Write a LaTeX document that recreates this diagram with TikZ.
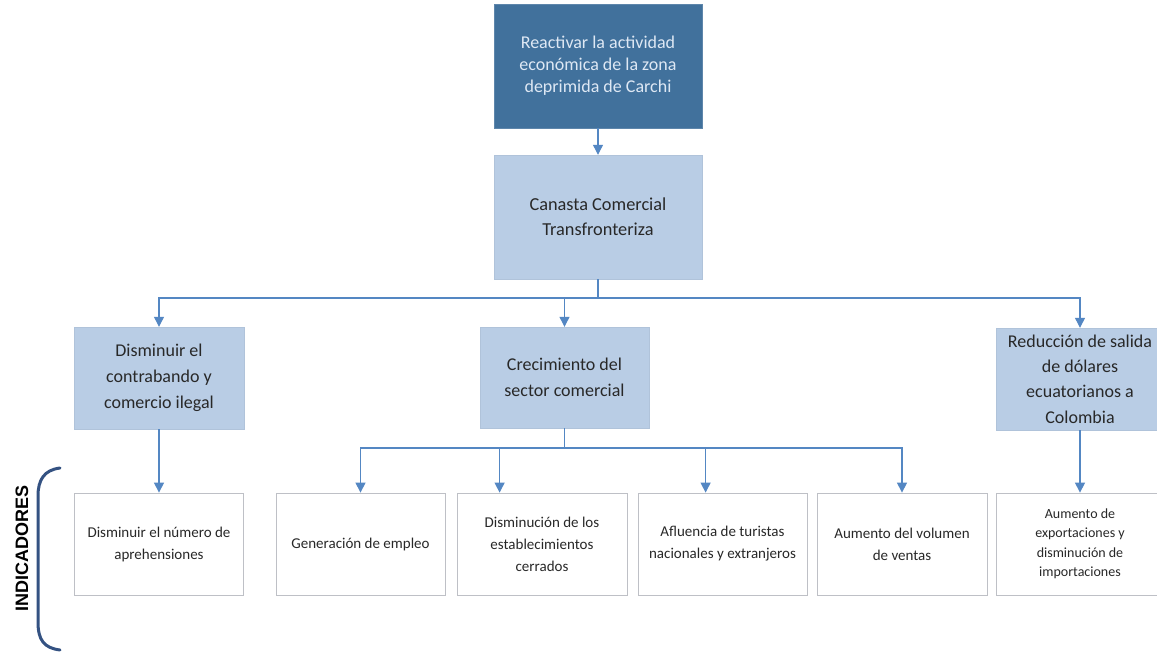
\documentclass[tikz,border=0pt]{standalone}
\usepackage{fontspec}
\setmainfont{Carlito}
\newfontfamily\headfont{Liberation Sans}
\usetikzlibrary{arrows.meta}
\definecolor{darkbox}{RGB}{65,113,156}
\definecolor{darktext}{RGB}{222,232,244}
\definecolor{midbox}{RGB}{185,205,229}
\definecolor{txt}{RGB}{40,40,40}
\definecolor{conn}{RGB}{84,135,195}
\definecolor{indborder}{RGB}{190,192,198}
\definecolor{brack}{RGB}{52,82,130}
\begin{document}
\begin{tikzpicture}[x=1pt,y=-1pt,
  topbox/.style={fill=darkbox, draw=darkbox!85!white, text=darktext, minimum width=208pt, minimum height=124pt, inner sep=0pt, align=center, font=\fontsize{18}{22}\selectfont},
  midbox/.style={fill=midbox, draw=midbox!95!black, text=txt, inner sep=0pt, align=center},
  indbox/.style={fill=white, draw=indborder, line width=0.8pt, text=txt, minimum height=102pt, inner sep=0pt, align=center, font=\fontsize{15}{22}\selectfont},
  line/.style={draw=conn, line width=1.2pt},
  arr/.style={line, -{Triangle[width=10pt,length=10pt]}}
]
\fill[white] (0,0) rectangle (1157,652);
\useasboundingbox (0,0) rectangle (1157,652);

% top levels
\node[topbox] (top) at (598,66) {Reactivar la actividad\\económica de la zona\\deprimida de Carchi};
\node[midbox, minimum width=208pt, minimum height=124pt, font=\fontsize{18.3}{25}\selectfont] (can) at (598,217) {Canasta Comercial\\Transfronteriza};

% second level
\node[midbox, minimum width=170pt, minimum height=102pt, font=\fontsize{18}{26}\selectfont] (dis) at (159,378) {Disminuir el\\contrabando y\\comercio ilegal};
\node[midbox, minimum width=169pt, minimum height=101pt, font=\fontsize{18}{26}\selectfont] (crec) at (564.5,377.5) {Crecimiento del\\sector comercial};
\node[midbox, minimum width=168pt, minimum height=102pt, font=\fontsize{18}{25.3}\selectfont] (red) at (1080,379) {Reducción de salida\\de dólares\\ecuatorianos a\\Colombia};

% indicators
\node[indbox, minimum width=169pt] (i1) at (159,544) {Disminuir el número de\\aprehensiones};
\node[indbox, minimum width=169pt] (i2) at (360.5,544) {Generación de empleo};
\node[indbox, minimum width=170pt] (i3) at (542,544) {Disminución de los\\establecimientos\\cerrados};
\node[indbox, minimum width=169pt] (i4) at (722.5,544) {Afluencia de turistas\\nacionales y extranjeros};
\node[indbox, minimum width=170pt] (i5) at (902,544) {Aumento del volumen\\de ventas};
\node[indbox, minimum width=168pt] (i6) at (1080,544) {\raisebox{-7pt}{\parbox{160pt}{\centering\fontsize{14}{19.5}\selectfont Aumento de\\exportaciones y\\disminución de\\importaciones}}};

% connectors
\draw[arr] (top.south) -- (can.north);
\coordinate (b1) at (598,298);
\draw[line] (can.south) -- (b1);
\draw[arr] (b1) -| (dis.north);
\draw[arr] (b1) -| (crec.north);
\draw[arr] (b1) -| (red.north);

\draw[arr] (dis.south) -- (i1.north);
\draw[arr] (red.south) -- (i6.north);

\coordinate (b2) at (564.5,448);
\draw[line] (crec.south) -- (b2);
\draw[arr] (b2) -| (i2.north);
\draw[arr] (b2) -| ([xshift=43pt]i3.north west);
\draw[arr] (b2) -| ([xshift=68pt]i4.north west);
\draw[arr] (b2) -| (i5.north);

% bracket and label
\draw[brack, line width=3pt, line cap=round] (60,468) .. controls (44,470) and (38,480) .. (38,496) -- (38,622) .. controls (38,640) and (44,648) .. (60,650);
\node[rotate=90, font=\headfont\bfseries\fontsize{18}{18}\selectfont, text=black] (lab) at (22,548) {INDICADORES};
\end{tikzpicture}
\end{document}
